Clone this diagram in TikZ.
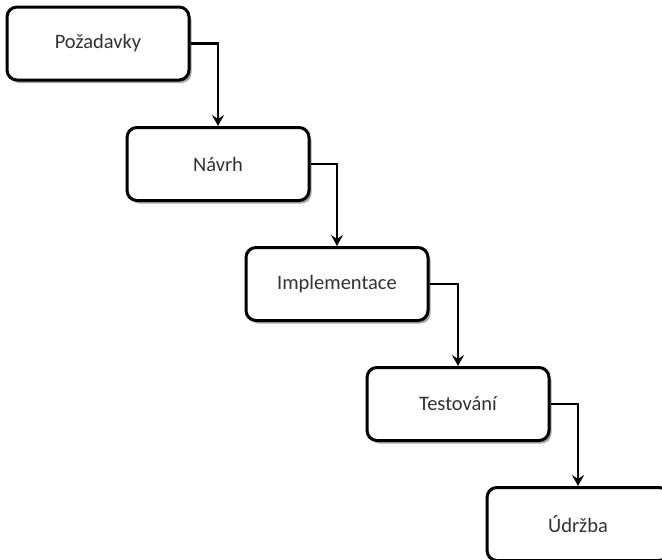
\documentclass[tikz,border=0pt]{standalone}
\usepackage{fontspec}
\setmainfont{Carlito}
\usetikzlibrary{arrows.meta,shadows}
\definecolor{labelgray}{RGB}{50,50,50}
\tikzset{
  phase/.style={draw=black, line width=3pt, fill=white, rounded corners=10pt,
    minimum width=182pt, minimum height=73pt, inner sep=0pt,
    font=\fontsize{20.5}{23}\selectfont, text=labelgray,
    drop shadow={shadow xshift=2.5pt, shadow yshift=-3pt, opacity=0.35, fill=black}},
  flow/.style={line width=2.2pt, -{Stealth[length=11pt, width=12pt, inset=4pt]}}
}
\begin{document}
\begin{tikzpicture}[x=1pt, y=-1pt]
  \useasboundingbox (0,0) rectangle (662,560);
  \clip (0,0) rectangle (662,560);
  \node[phase] (req)  at (98,43.5)  {Požadavky};
  \node[phase] (des)  at (218,164)  {Návrh};
  \node[phase] (impl) at (337,284)  {Implementace};
  \node[phase] (test) at (458,404)  {Testování};
  \node[phase] (main) at (578,524)  {Údržba};
  \draw[flow] (req.east)  -| (des.north);
  \draw[flow] (des.east)  -| (impl.north);
  \draw[flow] (impl.east) -| (test.north);
  \draw[flow] (test.east) -| (main.north);
\end{tikzpicture}
\end{document}
